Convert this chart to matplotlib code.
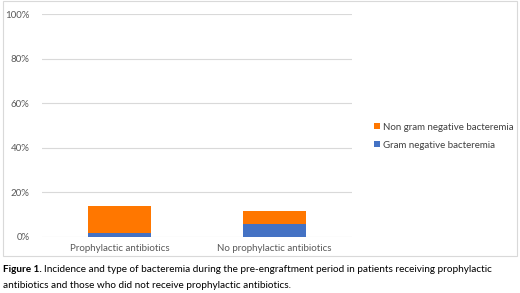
import matplotlib.pyplot as plt
from matplotlib.patches import Rectangle
import numpy as np

categories = ["Prophylactic antibiotics", "No prophylactic antibiotics"]
gram_negative = [1.6, 5.8]
non_gram_negative = [12.3, 5.8]
y_ticks = [0, 20, 40, 60, 80, 100]


def main():
    plt.rcParams['font.family'] = ['Lato', 'DejaVu Sans']
    fig = plt.figure(figsize=(5.2, 2.93), dpi=100)

    # light frame around the chart area
    fig.patches.append(Rectangle((3 / 520, 1 - 256 / 293), 514 / 520, 255 / 293,
                                 transform=fig.transFigure, fill=False,
                                 edgecolor='#d9d9d9', linewidth=0.8))

    ax = fig.add_axes([42 / 520, 1 - 237 / 293, 310 / 520, 223 / 293])
    x = np.arange(len(categories))
    ax.bar(x, gram_negative, width=0.41, color='#4472C4', label='Gram negative bacteremia', zorder=3)
    ax.bar(x, non_gram_negative, width=0.41, bottom=gram_negative, color='#FF7700',
           label='Non gram negative bacteremia', zorder=3)

    ax.set_xlim(-0.5, 1.5)
    ax.set_ylim(0, 100)
    ax.set_yticks(y_ticks)
    ax.set_yticklabels([f"{t}%" for t in y_ticks])
    ax.set_xticks(x)
    ax.set_xticklabels(categories)
    ax.tick_params(length=0, labelsize=7, labelcolor='#595959')
    ax.tick_params(axis='y', pad=9)
    ax.tick_params(axis='x', pad=5)
    ax.grid(axis='y', color='#d9d9d9', linewidth=0.8, zorder=0)
    for s in ax.spines.values():
        s.set_visible(False)

    h, l = ax.get_legend_handles_labels()
    fig.legend(h[::-1], l[::-1], loc='upper left', bbox_to_anchor=(365 / 520, 1 - 114 / 293),
               frameon=False, fontsize=7, labelcolor='#404040', handlelength=0.6,
               handleheight=0.6, handletextpad=0.4, labelspacing=0.9)

    # caption: bold lead-in followed by normal text
    y1 = 1 - 270 / 293
    bold = fig.text(3 / 520, y1, "Figure 1.", fontsize=7.2, fontweight='bold',
                    va='center', ha='left', color='black')
    r = fig.canvas.get_renderer()
    bb = bold.get_window_extent(renderer=r)
    fig.text((bb.x1 + 2.5) / 520, y1,
             "Incidence and type of bacteremia during the pre-engraftment period in patients receiving prophylactic",
             fontsize=7.2, va='center', ha='left', color='black')
    fig.text(3 / 520, 1 - 285 / 293,
             "antibiotics and those who did not receive prophylactic antibiotics.",
             fontsize=7.2, va='center', ha='left', color='black')

    fig.savefig('out.png', dpi=100)


if __name__ == "__main__":
    main()
